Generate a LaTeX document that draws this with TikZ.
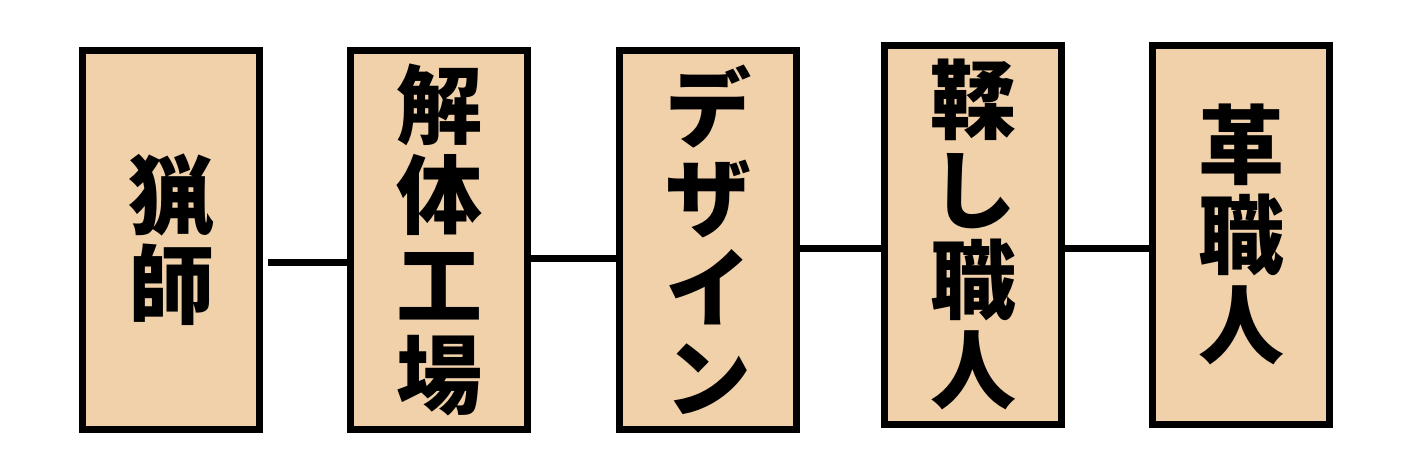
\documentclass[tikz,border=0pt]{standalone}
\usepackage{fontspec}
\newfontfamily\cjk{Noto Sans CJK JP}
\usepackage{xcolor}
\usepackage{tikz}
\usetikzlibrary{positioning}

\definecolor{hide}{HTML}{F1D1AA}

\begin{document}
\begin{tikzpicture}[x=1pt, y=1pt, node distance=84pt]
    \tikzstyle{stage} = [rectangle, draw, line width=7pt, fill=hide, minimum width=177pt, minimum height=379pt, inner sep=0pt, align=center, font=\cjk\bfseries\fontsize{86}{90}\selectfont]
    \tikzstyle{link} = [draw, line width=7pt]

    \useasboundingbox (0,0) rectangle (1414,-455);

    \node [stage] (hunter) at (171,-240) {猟\\師};
    \node [stage, right=of hunter] (plant) {解\\体\\工\\場};
    \node [stage, right=85pt of plant] (design) {デ\\ザ\\イ\\ン};
    \node [stage, right=81pt of design, yshift=5.5pt] (tanner) {鞣\\し\\職\\人};
    \node [stage, right=of tanner] (crafter) {革\\職\\人};

    \path [link] ([xshift=5pt, yshift=-22.5pt]hunter.east) -- ([yshift=-22.5pt]hunter.east -| plant.west);
    \path [link] ([yshift=-18.5pt]plant.east) -- ([yshift=-18.5pt]plant.east -| design.west);
    \path [link] ([yshift=-8.5pt]design.east) -- ([yshift=-8.5pt]design.east -| tanner.west);
    \path [link] ([yshift=-13.5pt]tanner.east) -- ([yshift=-13.5pt]tanner.east -| crafter.west);
\end{tikzpicture}
\end{document}
